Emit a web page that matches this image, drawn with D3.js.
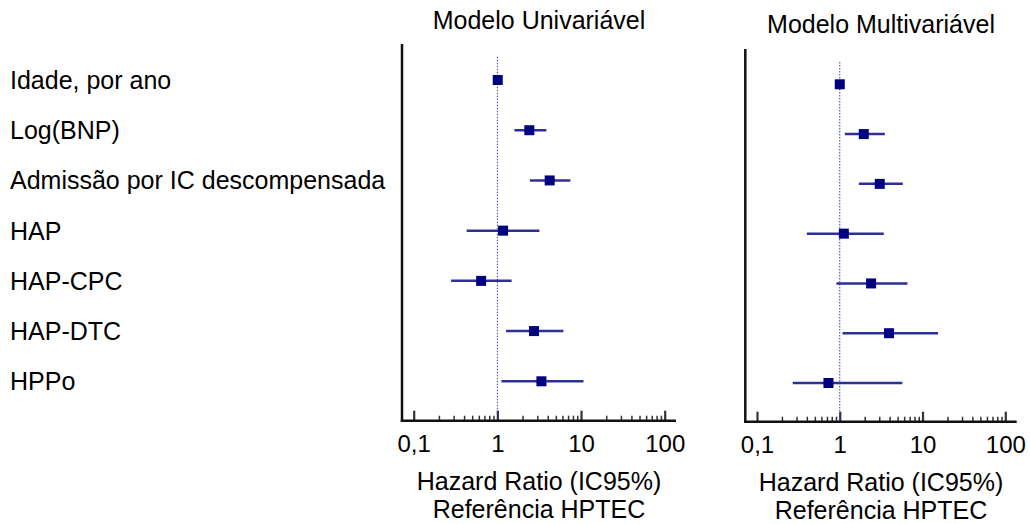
<!DOCTYPE html>
<html>
<head>
<meta charset="utf-8">
<script src="https://cdn.jsdelivr.net/npm/d3@7"></script>
<style>
  html, body { margin:0; padding:0; background:#fff; }
  svg text { font-family: Arial, "Liberation Sans", sans-serif; fill:#000; }
</style>
</head>
<body>
<svg id="chart" width="1030" height="524"></svg>
<script>
// data
var categories = ["Idade, por ano", "Log(BNP)", "Admissão por IC descompensada", "HAP", "HAP-CPC", "HAP-DTC", "HPPo"];
var uniHR = [1.01, 2.41, 4.22, 1.17, 0.64, 2.74, 3.36];
var uniLo = [0.99, 1.60, 2.45, 0.43, 0.28, 1.27, 1.12];
var uniHi = [1.03, 3.85, 7.45, 3.18, 1.48, 6.15, 10.7];
var multiHR = [1.00, 1.95, 3.04, 1.12, 2.39, 3.94, 0.73];
var multiLo = [0.99, 1.15, 1.70, 0.40, 0.91, 1.08, 0.27];
var multiHi = [1.01, 3.50, 5.77, 3.40, 6.57, 15.4, 5.70];
var tickValues = [0.1, 1, 10, 100];
var tickLabels = ["0,1", "1", "10", "100"];
var titles = ["Modelo Univariável", "Modelo Multivariável"];
var xTitle = ["Hazard Ratio (IC95%)", "Referência HPTEC"];

var svg = d3.select("#chart");

// layout of each panel (pixels)
var panels = [
  {x0:413.7, x1:664.7, left:402, right:676, top:44, axisY:420.7, refTop:56.7, y0:80, y1:381.3, titleY:29, xtY:490, xtY2:518},
  {x0:757, x1:1005.3, left:745.3, right:1016.7, top:49, axisY:421.7, refTop:62, y0:84.3, y1:383, titleY:33, xtY:490.5, xtY2:519}
];

var minors = [];
[0.1, 1, 10].forEach(function(d){
  for (var k = 2; k <= 9; k++) minors.push(d * k);
});

function drawPanel(p, hr, lo, hi, title){
  var x = d3.scaleLog().domain([0.1, 100]).range([p.x0, p.x1]);
  var y = d3.scaleLinear().domain([0, categories.length - 1]).range([p.y0, p.y1]);
  var g = svg.append("g");
  var cx = (p.left + p.right) / 2;

  g.append("text").attr("x", cx).attr("y", p.titleY)
    .attr("text-anchor", "middle").style("font-size", "25px").text(title);

  // minor ticks
  var minorAxis = d3.axisBottom(x).tickValues(minors).tickFormat("").tickSize(-5);
  var ga = g.append("g").attr("transform", "translate(0," + p.axisY + ")").call(minorAxis);
  ga.select(".domain").remove();
  ga.selectAll(".tick line").attr("stroke", "#333").attr("stroke-width", 1.5);

  // major ticks + labels
  var majorAxis = d3.axisBottom(x).tickValues(tickValues)
    .tickFormat(function(d, i){ return tickLabels[i]; })
    .tickSize(-10).tickPadding(14);
  var gb = g.append("g").attr("transform", "translate(0," + p.axisY + ")").call(majorAxis);
  gb.select(".domain").remove();
  gb.selectAll(".tick line").attr("stroke", "#333").attr("stroke-width", 2.2);
  gb.selectAll(".tick text").style("font-size", "24px").attr("fill", "#000")
    .style("font-family", "Arial, 'Liberation Sans', sans-serif");

  // frame
  g.append("line").attr("x1", p.left).attr("x2", p.left).attr("y1", p.top).attr("y2", p.axisY + 1.2)
    .attr("stroke", "#111").attr("stroke-width", 2.5);
  g.append("line").attr("x1", p.left - 1.2).attr("x2", p.right).attr("y1", p.axisY).attr("y2", p.axisY)
    .attr("stroke", "#111").attr("stroke-width", 2.5);

  // reference line at HR = 1
  g.append("line").attr("x1", x(1)).attr("x2", x(1)).attr("y1", p.refTop).attr("y2", p.axisY - 1)
    .attr("stroke", "#3a3ab8").attr("stroke-width", 1).attr("stroke-dasharray", "1.5,1.5");

  // CI bars
  g.selectAll(".ci").data(hr).enter().append("line")
    .attr("x1", function(d, i){ return x(lo[i]); })
    .attr("x2", function(d, i){ return x(hi[i]); })
    .attr("y1", function(d, i){ return y(i); })
    .attr("y2", function(d, i){ return y(i); })
    .attr("stroke", "#2f2f98").attr("stroke-width", 2.5);

  // point estimates
  g.selectAll(".pt").data(hr).enter().append("rect")
    .attr("x", function(d){ return x(d) - 5; })
    .attr("y", function(d, i){ return y(i) - 5; })
    .attr("width", 10).attr("height", 10)
    .attr("fill", "#000080");

  g.append("text").attr("x", cx).attr("y", p.xtY).attr("text-anchor", "middle")
    .style("font-size", "25px").text(xTitle[0]);
  g.append("text").attr("x", cx).attr("y", p.xtY2).attr("text-anchor", "middle")
    .style("font-size", "25px").text(xTitle[1]);
  return y;
}

var yLeft = drawPanel(panels[0], uniHR, uniLo, uniHi, titles[0]);
drawPanel(panels[1], multiHR, multiLo, multiHi, titles[1]);

// row labels, aligned to the first panel rows
svg.append("g").selectAll("text").data(categories).enter().append("text")
  .attr("x", 10)
  .attr("y", function(d, i){ return yLeft(i); })
  .attr("dy", "0.36em")
  .style("font-size", "25px")
  .text(function(d){ return d; });
</script>
</body>
</html>
